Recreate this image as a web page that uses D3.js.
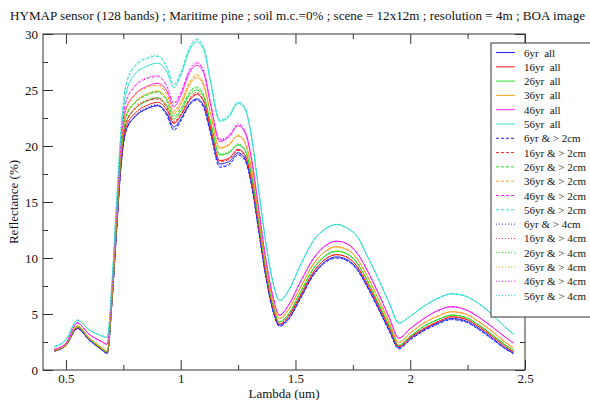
<!DOCTYPE html>
<html><head><meta charset="utf-8">
<script src="https://cdn.jsdelivr.net/npm/d3@7"></script>
<style>
body{margin:0;background:#fff;}
svg{display:block;font-family:"Liberation Serif","DejaVu Serif",serif;}
</style></head>
<body><svg id="c" width="590" height="400"></svg>
<script>
const wavelengths = [0.45,0.50,0.55,0.60,0.65,0.68,0.70,0.72,0.74,0.76,0.80,0.85,0.90,0.94,0.97,1.00,1.04,1.07,1.10,1.13,1.17,1.21,1.25,1.28,1.31,1.34,1.37,1.40,1.43,1.47,1.52,1.58,1.63,1.68,1.73,1.77,1.81,1.86,1.91,1.95,2.00,2.06,2.12,2.18,2.24,2.30,2.36,2.41,2.45];

const all6  = [1.7,2.2,3.7,2.7,1.9,1.5,6.0,12.3,18.3,21.3,22.6,23.3,23.6,22.9,21.7,22.4,23.8,24.2,23.6,21.3,18.4,18.6,19.4,18.9,16.5,12.5,8.5,5.5,4.0,4.6,6.4,8.6,9.7,10.1,9.8,9.0,7.6,5.6,3.5,2.0,2.8,3.6,4.2,4.6,4.4,3.7,2.8,2.0,1.5];
const all16 = [1.7,2.2,3.8,2.75,1.95,1.55,6.0,12.4,18.5,21.6,22.9,23.6,23.9,23.2,22.0,22.7,24.1,24.6,24.0,21.6,18.7,18.9,19.7,19.2,16.8,12.8,8.7,5.7,4.1,4.8,6.6,8.8,9.9,10.3,10.0,9.2,7.8,5.8,3.7,2.1,2.9,3.7,4.3,4.75,4.55,3.85,2.95,2.15,1.6];
const all26 = [1.75,2.25,3.85,2.8,2.0,1.6,6.1,12.6,18.8,22.0,23.3,24.0,24.3,23.6,22.4,23.1,24.6,25.0,24.4,22.1,19.2,19.4,20.1,19.6,17.2,13.1,9.0,5.9,4.3,5.0,6.9,9.1,10.2,10.6,10.3,9.5,8.1,6.0,3.9,2.2,3.0,3.9,4.5,4.9,4.7,4.0,3.1,2.3,1.75];
const all36 = [1.8,2.3,3.95,2.9,2.1,1.7,6.3,12.9,19.3,22.6,23.9,24.6,24.9,24.2,22.9,23.7,25.5,26.1,25.4,22.9,19.8,20.1,20.9,20.3,17.8,13.6,9.4,6.3,4.6,5.4,7.3,9.5,10.6,11.0,10.7,9.9,8.5,6.4,4.2,2.45,3.3,4.2,4.8,5.2,5.0,4.3,3.4,2.55,1.95];
const all46 = [1.85,2.4,4.2,3.2,2.6,2.3,6.8,13.4,19.8,23.2,24.6,25.3,25.6,24.9,23.5,24.5,26.6,27.2,26.5,23.7,20.4,20.8,21.8,21.2,18.6,14.3,10.0,6.7,4.9,5.8,7.8,10.0,11.1,11.5,11.2,10.4,9.0,6.9,4.6,2.85,3.7,4.6,5.3,5.65,5.4,4.7,3.8,3.0,2.4];
const all56 = [2.1,2.7,4.45,3.6,3.1,2.9,7.5,14.5,21.0,24.6,26.4,27.1,27.4,26.6,25.2,26.3,28.6,29.3,28.6,25.7,22.2,22.6,23.8,23.3,20.6,16.0,11.5,8.0,6.2,7.1,9.3,11.6,12.6,13.0,12.6,11.9,10.3,8.2,5.9,4.2,4.8,5.7,6.4,6.8,6.6,5.9,4.9,3.9,3.2];

const gt2_6  = [1.7,2.2,3.7,2.7,1.9,1.5,5.9,12.2,18.2,21.2,22.6,23.3,23.6,22.7,21.4,22.2,23.7,24.1,23.4,21.1,18.1,18.3,19.2,18.7,16.3,12.3,8.4,5.4,3.9,4.5,6.3,8.5,9.6,10.0,9.7,8.9,7.5,5.5,3.4,1.9,2.7,3.5,4.1,4.5,4.3,3.6,2.7,1.95,1.45];
const gt2_16 = [1.7,2.2,3.8,2.75,1.95,1.55,6.0,12.5,18.7,21.9,23.3,24.0,24.2,23.4,22.1,22.8,24.2,24.7,24.0,21.6,18.6,18.8,19.6,19.1,16.7,12.7,8.7,5.7,4.1,4.8,6.6,8.8,9.9,10.3,10.0,9.2,7.8,5.8,3.7,2.1,2.9,3.7,4.3,4.75,4.55,3.85,2.95,2.15,1.6];
const gt2_26 = [1.75,2.25,3.85,2.8,2.0,1.6,6.2,12.8,19.1,22.5,23.8,24.5,24.8,24.0,22.6,23.3,24.8,25.2,24.5,22.1,19.2,19.4,20.1,19.6,17.2,13.1,9.0,5.9,4.3,5.0,6.9,9.1,10.2,10.6,10.3,9.5,8.1,6.0,3.9,2.2,3.0,3.9,4.5,4.9,4.7,4.0,3.1,2.3,1.75];
const gt2_36 = [1.8,2.3,3.95,2.9,2.1,1.7,6.4,13.1,19.6,23.1,24.5,25.2,25.4,24.6,23.1,23.9,25.7,26.3,25.5,22.9,19.8,20.1,20.9,20.3,17.8,13.6,9.4,6.3,4.6,5.4,7.3,9.5,10.6,11.0,10.7,9.9,8.5,6.4,4.2,2.45,3.3,4.2,4.8,5.2,5.0,4.3,3.4,2.55,1.95];
const gt2_46 = [1.85,2.4,4.2,3.2,2.6,2.3,6.9,13.7,20.2,23.8,25.3,26.0,26.2,25.3,23.8,24.7,26.8,27.4,26.7,23.8,20.5,20.9,21.9,21.3,18.7,14.3,10.0,6.7,4.9,5.8,7.8,10.0,11.1,11.5,11.2,10.4,9.0,6.9,4.6,2.85,3.7,4.6,5.3,5.65,5.4,4.7,3.8,3.0,2.4];
const gt2_56 = [2.1,2.7,4.45,3.6,3.1,2.9,7.6,14.8,21.5,25.3,27.1,27.8,28.0,27.0,25.5,26.5,28.8,29.5,28.8,25.8,22.3,22.7,23.9,23.4,20.6,16.0,11.5,8.0,6.2,7.1,9.3,11.6,12.6,13.0,12.6,11.9,10.3,8.2,5.9,4.2,4.8,5.7,6.4,6.8,6.6,5.9,4.9,3.9,3.2];

const gt4_6  = [1.7,2.2,3.7,2.7,1.9,1.5,5.9,12.2,18.3,21.3,22.7,23.4,23.7,22.8,21.5,22.3,23.8,24.2,23.5,21.2,18.2,18.4,19.3,18.8,16.4,12.4,8.4,5.4,3.9,4.5,6.3,8.5,9.6,10.0,9.7,8.9,7.5,5.5,3.4,1.9,2.7,3.5,4.1,4.5,4.3,3.6,2.7,1.95,1.45];
const gt4_16 = [1.7,2.2,3.8,2.75,1.95,1.55,6.0,12.5,18.8,22.0,23.4,24.1,24.3,23.5,22.2,22.9,24.3,24.8,24.1,21.7,18.7,18.9,19.7,19.2,16.8,12.8,8.7,5.7,4.1,4.8,6.6,8.8,9.9,10.3,10.0,9.2,7.8,5.8,3.7,2.1,2.9,3.7,4.3,4.75,4.55,3.85,2.95,2.15,1.6];
const gt4_26 = [1.75,2.25,3.85,2.8,2.0,1.6,6.2,12.9,19.2,22.6,23.9,24.6,24.9,24.1,22.7,23.4,24.9,25.3,24.6,22.2,19.3,19.5,20.2,19.7,17.3,13.2,9.0,5.9,4.3,5.0,6.9,9.1,10.2,10.6,10.3,9.5,8.1,6.0,3.9,2.2,3.0,3.9,4.5,4.9,4.7,4.0,3.1,2.3,1.75];
const gt4_36 = [1.8,2.3,3.95,2.9,2.1,1.7,6.4,13.2,19.7,23.2,24.6,25.3,25.5,24.7,23.2,24.0,25.8,26.4,25.6,23.0,19.9,20.2,21.0,20.4,17.9,13.7,9.4,6.3,4.6,5.4,7.3,9.5,10.6,11.0,10.7,9.9,8.5,6.4,4.2,2.45,3.3,4.2,4.8,5.2,5.0,4.3,3.4,2.55,1.95];
const gt4_46 = [1.85,2.4,4.2,3.2,2.6,2.3,7.0,13.8,20.3,23.9,25.4,26.1,26.3,25.4,23.9,24.8,26.9,27.5,26.8,23.9,20.6,21.0,22.0,21.4,18.8,14.4,10.0,6.7,4.9,5.8,7.8,10.0,11.1,11.5,11.2,10.4,9.0,6.9,4.6,2.85,3.7,4.6,5.3,5.65,5.4,4.7,3.8,3.0,2.4];
const gt4_56 = [2.1,2.7,4.45,3.6,3.1,2.9,7.7,14.9,21.6,25.4,27.2,27.9,28.1,27.1,25.6,26.6,28.9,29.6,28.9,25.9,22.4,22.8,24.0,23.5,20.7,16.0,11.5,8.0,6.2,7.1,9.3,11.6,12.6,13.0,12.6,11.9,10.3,8.2,5.9,4.2,4.8,5.7,6.4,6.8,6.6,5.9,4.9,3.9,3.2];

const ages = ["6yr","16yr","26yr","36yr","46yr","56yr"];
const colors = ["#2020ff","#ff2020","#20e020","#ffa020","#ff20ff","#30e0d0"];
const xTicks = [0.5,1,1.5,2,2.5];
const xMinor = [0.75,1.25,1.75,2.25];
const yTicks = [0,5,10,15,20,25,30];
const yMinor = [2.5,7.5,12.5,17.5,22.5,27.5];
const title = "HYMAP sensor (128 bands) ; Maritime pine ; soil m.c.=0% ; scene = 12x12m ; resolution = 4m ; BOA image";

const series = [
  {name:"6yr  all", color:colors[0], dash:null, values:all6},
  {name:"16yr  all", color:colors[1], dash:null, values:all16},
  {name:"26yr  all", color:colors[2], dash:null, values:all26},
  {name:"36yr  all", color:colors[3], dash:null, values:all36},
  {name:"46yr  all", color:colors[4], dash:null, values:all46},
  {name:"56yr  all", color:colors[5], dash:null, values:all56},
  {name:"6yr & > 2cm", color:colors[0], dash:"3,2", values:gt2_6},
  {name:"16yr & > 2cm", color:colors[1], dash:"3,2", values:gt2_16},
  {name:"26yr & > 2cm", color:colors[2], dash:"3,2", values:gt2_26},
  {name:"36yr & > 2cm", color:colors[3], dash:"3,2", values:gt2_36},
  {name:"46yr & > 2cm", color:colors[4], dash:"3,2", values:gt2_46},
  {name:"56yr & > 2cm", color:colors[5], dash:"3,2", values:gt2_56},
  {name:"6yr & > 4cm", color:colors[0], dash:"1,2", values:gt4_6},
  {name:"16yr & > 4cm", color:colors[1], dash:"1,2", values:gt4_16},
  {name:"26yr & > 4cm", color:colors[2], dash:"1,2", values:gt4_26},
  {name:"36yr & > 4cm", color:colors[3], dash:"1,2", values:gt4_36},
  {name:"46yr & > 4cm", color:colors[4], dash:"1,2", values:gt4_46},
  {name:"56yr & > 4cm", color:colors[5], dash:"1,2", values:gt4_56}
];

const svg = d3.select("#c");
const L = 43, R = 525, T = 34, B = 370;
const x = d3.scaleLinear().domain([0.4,2.5]).range([L,R]);
const y = d3.scaleLinear().domain([0,30]).range([B,T]);

svg.append("text").attr("x",10).attr("y",20).attr("font-size",13).attr("fill","#111")
  .attr("textLength",575).attr("lengthAdjust","spacingAndGlyphs").text(title);

const line = d3.line().x((d,i)=>x(wavelengths[i])).y(d=>y(d)).curve(d3.curveMonotoneX);
const g = svg.append("g");
series.forEach(s=>{
  g.append("path").datum(s.values).attr("d",line).attr("fill","none")
    .attr("stroke",s.color).attr("stroke-width",1)
    .attr("stroke-dasharray",s.dash);
});

function styleAxis(sel){
  sel.select(".domain").remove();
  sel.selectAll(".tick line").attr("stroke","#333");
  sel.selectAll("text").attr("font-size",13).attr("fill","#111")
    .attr("font-family","Liberation Serif, serif");
}
// bottom
svg.append("g").attr("transform",`translate(0,${B})`)
  .call(d3.axisBottom(x).tickValues(xTicks).tickSize(-10).tickPadding(4).tickFormat(d3.format("")))
  .call(styleAxis);
svg.append("g").attr("transform",`translate(0,${B})`)
  .call(d3.axisBottom(x).tickValues(xMinor).tickSize(-5).tickFormat("")).call(styleAxis);
// top
svg.append("g").attr("transform",`translate(0,${T})`)
  .call(d3.axisTop(x).tickValues(xTicks).tickSize(-10).tickFormat("")).call(styleAxis);
svg.append("g").attr("transform",`translate(0,${T})`)
  .call(d3.axisTop(x).tickValues(xMinor).tickSize(-5).tickFormat("")).call(styleAxis);
// left
svg.append("g").attr("transform",`translate(${L},0)`)
  .call(d3.axisLeft(y).tickValues(yTicks).tickSize(-10).tickPadding(5).tickFormat(d3.format("d")))
  .call(styleAxis);
svg.append("g").attr("transform",`translate(${L},0)`)
  .call(d3.axisLeft(y).tickValues(yMinor).tickSize(-5).tickFormat("")).call(styleAxis);
// right
svg.append("g").attr("transform",`translate(${R},0)`)
  .call(d3.axisRight(y).tickValues(yTicks).tickSize(-10).tickFormat("")).call(styleAxis);
svg.append("g").attr("transform",`translate(${R},0)`)
  .call(d3.axisRight(y).tickValues(yMinor).tickSize(-5).tickFormat("")).call(styleAxis);

svg.append("rect").attr("x",L).attr("y",T).attr("width",R-L).attr("height",B-T)
  .attr("fill","none").attr("stroke","#333").attr("stroke-width",1);

svg.append("text").attr("x",(L+R)/2).attr("y",398).attr("text-anchor","middle")
  .attr("font-size",13).attr("fill","#111").text("Lambda (um)");
svg.append("text").attr("transform",`translate(18,${(T+B)/2}) rotate(-90)`)
  .attr("text-anchor","middle").attr("font-size",13).attr("fill","#111").text("Reflectance (%)");

// legend
const lg = svg.append("g");
lg.append("rect").attr("x",491).attr("y",43).attr("width",110).attr("height",274)
  .attr("fill","#fff").attr("stroke","#333").attr("stroke-width",1);
series.forEach((s,i)=>{
  const yy = 52.5 + i*14.3;
  lg.append("line").attr("x1",496).attr("x2",515).attr("y1",yy).attr("y2",yy)
    .attr("stroke",s.color).attr("stroke-width",1).attr("stroke-dasharray",s.dash);
  lg.append("text").attr("x",524).attr("y",yy+4).attr("font-size",11).attr("fill","#111")
    .attr("xml:space","preserve").style("white-space","pre").text(s.name);
});
</script></body></html>
